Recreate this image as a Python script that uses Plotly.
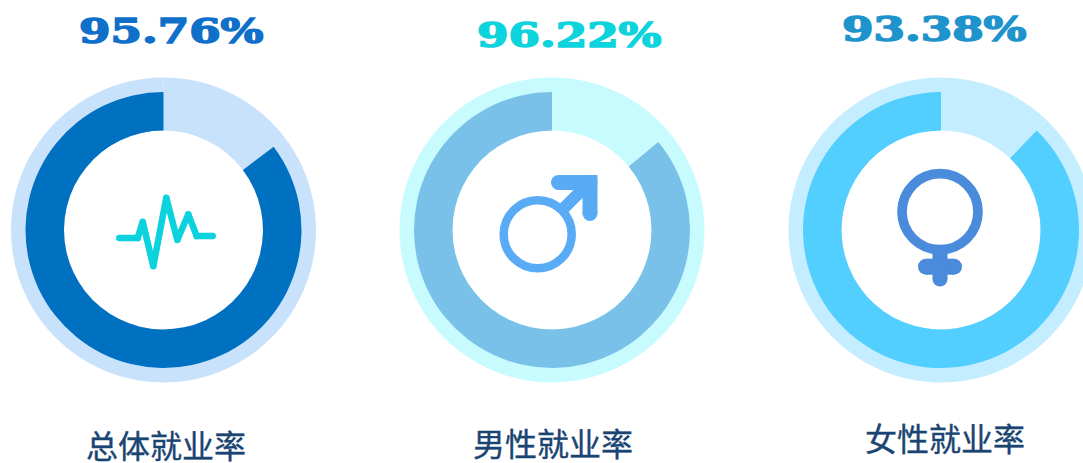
import plotly.graph_objects as go

# ---- data ----
titles = ["总体就业率", "男性就业率", "女性就业率"]
rates = ["95.76%", "96.22%", "93.38%"]
arc_share = [85.3, 86.0, 87.8]          # share of the ring drawn in the dark colour
remainder = [14.7, 14.0, 12.2]

# ---- styles ----
light_colors = ["#C9E2FB", "#C8FBFD", "#C4EEFF"]
dark_colors = ["#0071C1", "#79C1E9", "#52CEFF"]
rate_colors = ["#0F6FC9", "#0DD3DD", "#1F93CC"]
title_color = "#1A4472"
centers_x = [163.5, 552, 941]
center_y = 230
R_OUT, R_MID, R_IN = 152.5, 138, 99.5
W, H = 1100, 463
rate_pos = [(171, 31), (569, 35), (934, 29)]
title_pos = [(166, 444), (553, 442), (945, 437)]

# ---- decorative icons, in pixel space ----
pulse_x = [119.3, 137.7, 142.7, 153.3, 166.3, 177.3, 188.3, 196.7, 212.7]
pulse_y = [238, 238, 221.7, 266.3, 197.7, 240, 214.3, 236, 236]
male_ring = (537.7, 234.3, 68, 8.5)
male_stem = ([565, 590], [207, 182])
male_head = ([558.5, 590, 590], [182.5, 182.5, 213.5])
female_ring = (940, 211.7, 76, 9.7)
female_stem = ([940, 940], [250, 279])
female_bar = ([926, 954], [266.7, 266.7])


def domain(cx, cy, r):
    return dict(x=[(cx - r) / W, (cx + r) / W], y=[1 - (cy + r) / H, 1 - (cy - r) / H])


fig = go.Figure()

for i in range(3):
    cx = centers_x[i]
    fig.add_trace(go.Pie(values=[remainder[i], arc_share[i]], domain=domain(cx, center_y, R_OUT),
                         hole=R_IN / R_OUT, sort=False, direction="clockwise", rotation=0,
                         marker=dict(colors=[light_colors[i]] * 2, line=dict(width=0)),
                         textinfo="none", hoverinfo="skip", showlegend=False))
    fig.add_trace(go.Pie(values=[remainder[i], arc_share[i]], domain=domain(cx, center_y, R_MID),
                         hole=R_IN / R_MID, sort=False, direction="clockwise", rotation=0,
                         marker=dict(colors=["rgba(0,0,0,0)", dark_colors[i]], line=dict(width=0)),
                         textinfo="none", hoverinfo="skip", showlegend=False))


def stroke(xs, ys, color, width):
    fig.add_trace(go.Scatter(x=xs, y=ys, mode="lines+markers", showlegend=False, hoverinfo="skip",
                             line=dict(color=color, width=width),
                             marker=dict(color=color, size=width, line=dict(width=0))))


def ring(spec, color):
    x, y, size, lw = spec
    fig.add_trace(go.Scatter(x=[x], y=[y], mode="markers", showlegend=False, hoverinfo="skip",
                             marker=dict(symbol="circle", size=size, color="white",
                                         line=dict(color=color, width=lw))))


stroke(pulse_x, pulse_y, "#0CD2DE", 6.5)
stroke(*male_stem, "#5AABF5", 12)
stroke(*male_head, "#5AABF5", 15)
ring(male_ring, "#5AABF5")
stroke(*female_stem, "#4A8BDB", 15)
stroke(*female_bar, "#4A8BDB", 16)
ring(female_ring, "#4A8BDB")

annotations = []
for i in range(3):
    annotations.append(dict(x=rate_pos[i][0], y=rate_pos[i][1], text=rates[i], showarrow=False,
                            xanchor="center", yanchor="middle",
                            font=dict(family="DejaVu Serif", size=33, color=rate_colors[i], weight="bold")))
    annotations.append(dict(x=title_pos[i][0], y=title_pos[i][1], text=titles[i], showarrow=False,
                            xanchor="center", yanchor="middle",
                            font=dict(family="Noto Sans CJK SC", size=32, color=title_color)))

fig.update_layout(width=W, height=H, margin=dict(l=0, r=0, t=0, b=0), autosize=False,
                  paper_bgcolor="white", plot_bgcolor="rgba(0,0,0,0)",
                  xaxis=dict(range=[0, W], visible=False, fixedrange=True),
                  yaxis=dict(range=[H, 0], visible=False, fixedrange=True),
                  annotations=annotations)

post = """
document.documentElement.style.overflow='hidden';
document.body.style.margin='0';
document.body.style.overflow='hidden';
document.querySelectorAll('.annotation-text').forEach(function(t){
  t.style.stroke=t.style.fill;
  if(t.textContent.indexOf('%')>=0){
    t.style.transformBox='fill-box';
    t.style.transformOrigin='center';
    t.style.transform='scaleX(1.37)';
    t.style.strokeWidth='1.5px';
  } else {
    t.style.strokeWidth='0.35px';
  }
});
"""
fig.write_html("out.html", post_script=post, config=dict(displayModeBar=False))
